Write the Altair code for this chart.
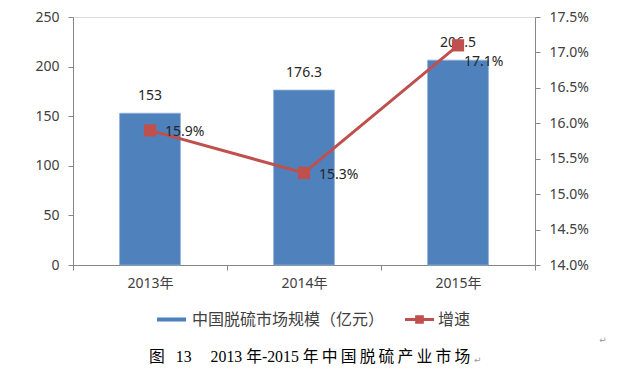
import altair as alt
import pandas as pd

years = ["2013年", "2014年", "2015年"]
market = [153, 176.3, 206.5]
growth = [0.159, 0.153, 0.171]
bar_name = "中国脱硫市场规模（亿元）"
line_name = "增速"
T = "\u2009"
caption = ("图\u2002" + T + "13\u2003" + T + "2013 年-2015 年" + T
           + T.join("中国脱硫产业市场"))
left_ticks = [0, 50, 100, 150, 200, 250]
right_ticks = [0.140, 0.145, 0.150, 0.155, 0.160, 0.165, 0.170, 0.175]

df = pd.DataFrame({"year": years, "market": market, "growth": growth,
                   "s1": bar_name, "s2": line_name})

BLUE = "#4F81BD"
RED = "#C0504D"
AX = "#868686"
TXT = "#404040"
FONT = "Noto Sans, Noto Sans CJK SC"

base = alt.Chart(df)

x = alt.X("year:N", sort=years, title=None,
          scale=alt.Scale(paddingInner=0, paddingOuter=0),
          axis=alt.Axis(labelAngle=0, tickBand="extent", tickSize=5,
                        domainColor=AX, tickColor=AX, labelFont=FONT,
                        labelFontSize=14, labelColor=TXT, labelPadding=6))

ybar = alt.Y("market:Q", title=None, scale=alt.Scale(domain=[0, 250], nice=False),
             axis=alt.Axis(values=left_ticks, grid=False, orient="left", tickSize=5,
                           domainColor=AX, tickColor=AX, labelFont=FONT,
                           labelFontSize=14, labelColor=TXT, labelPadding=9))

yline = alt.Y("growth:Q", title=None, scale=alt.Scale(domain=[0.14, 0.175], nice=False, zero=False),
              axis=alt.Axis(values=right_ticks, format=".1%", grid=False, orient="right",
                            tickSize=5, domainColor=AX, tickColor=AX, labelFont=FONT,
                            labelFontSize=14, labelColor=TXT, labelPadding=9))

bars = base.mark_bar(width=alt.RelativeBandSize(0.395), stroke="#8FAEDB", strokeWidth=0.8).encode(
    x=x, y=ybar,
    color=alt.Color("s1:N", scale=alt.Scale(domain=[bar_name], range=[BLUE]),
                    legend=alt.Legend(orient="none", legendX=84, legendY=288, title=None,
                                      padding=0, symbolType="M-1,-0.14L1,-0.14L1,0.14L-1,0.14Z",
                                      symbolSize=841, symbolStrokeWidth=0, labelOffset=6,
                                      labelLimit=400,
                                      labelFont=FONT, labelFontSize=16, labelColor=TXT)))

bar_labels = base.mark_text(dy=-17, baseline="middle", font=FONT, fontSize=14, color="#262626").encode(
    x=x, y=ybar, text=alt.Text("market:Q", format="~f"))

line = base.mark_line(strokeWidth=3).encode(
    x=x, y=yline,
    color=alt.Color("s2:N", scale=alt.Scale(domain=[line_name], range=[RED]),
                    legend=alt.Legend(orient="none", legendX=332, legendY=288, title=None,
                                      padding=0,
                                      symbolType="M-1,-0.11L1,-0.11L1,0.11L-1,0.11Z M-0.3,-0.3L0.3,-0.3L0.3,0.3L-0.3,0.3Z",
                                      symbolSize=841, symbolFillColor=RED, symbolStrokeColor=RED,
                                      symbolStrokeWidth=0, labelOffset=4, labelLimit=200,
                                      labelFont=FONT, labelFontSize=16, labelColor=TXT)))

points = base.mark_point(shape="square", filled=True, size=150, color=RED, opacity=1).encode(
    x=x, y=yline)

g_labels = base.transform_filter(alt.datum.year != "2015年").mark_text(
    align="left", dx=15, dy=2, baseline="middle", font=FONT, fontSize=14, color="#262626").encode(
    x=x, y=yline, text=alt.Text("growth:Q", format=".1%"))

g_label_last = base.transform_filter(alt.datum.year == "2015年").mark_text(
    align="left", dx=6, dy=17, baseline="middle", font=FONT, fontSize=14, color="#262626").encode(
    x=x, y=yline, text=alt.Text("growth:Q", format=".1%"))

cap = alt.Chart(pd.DataFrame({"m": [caption]})).mark_text(
    font="Liberation Serif, Noto Sans CJK SC", fontSize=15.8, color="#000000",
    align="left", baseline="middle").encode(
    text="m:N", x=alt.value(76), y=alt.value(340))
returns = alt.Chart(pd.DataFrame({"m": ["↵"]})).mark_text(
    font="DejaVu Sans", fontSize=9, color="#9A9A9A", align="left").encode(
    text="m:N", x=alt.value(401), y=alt.value(343))
returns2 = alt.Chart(pd.DataFrame({"m": ["↵"]})).mark_text(
    font="DejaVu Sans", fontSize=9, color="#9A9A9A").encode(
    text="m:N", x=alt.value(530), y=alt.value(323))

left = alt.layer(bars, bar_labels)
right = alt.layer(line, points, g_labels, g_label_last)

chart = alt.layer(left, right, cap, returns, returns2).resolve_scale(
    y="independent", color="independent"
).resolve_legend(color="independent").properties(
    width=462, height=248,
    autosize=alt.AutoSizeParams(type="none"),
    padding={"left": 73, "top": 17, "right": 83, "bottom": 111},
).configure_view(stroke=None).configure(background="white")

chart.save("out.html", embed_options={"renderer": "svg", "actions": False})
